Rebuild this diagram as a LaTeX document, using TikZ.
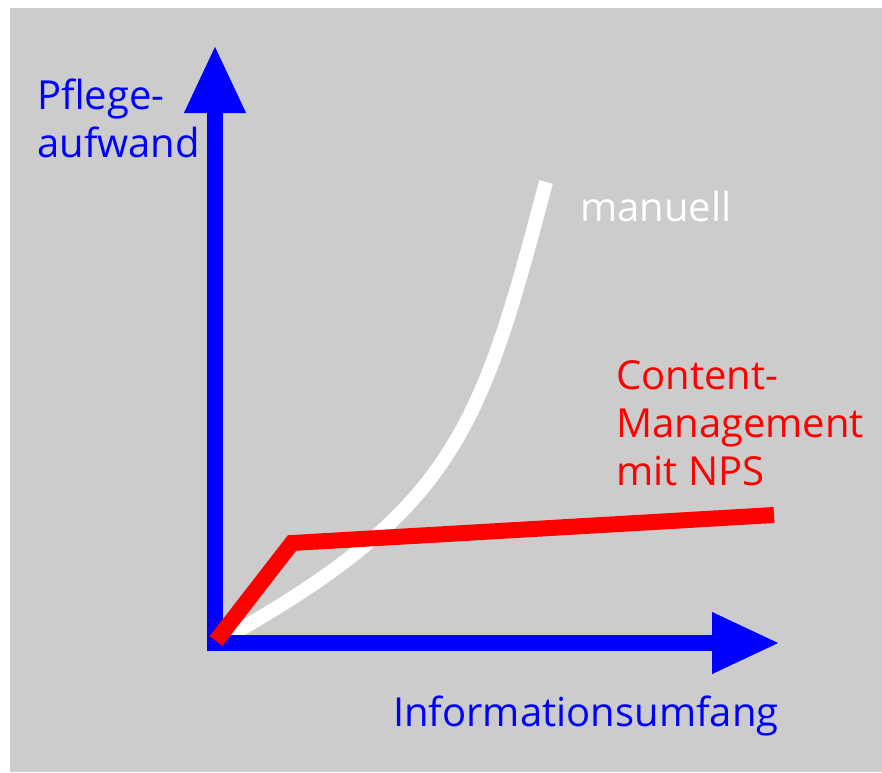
\documentclass[tikz,border=0pt]{standalone}
\usepackage{fontspec}
\setmainfont{Open Sans}
\usetikzlibrary{arrows.meta}
\definecolor{panel}{RGB}{204,204,204}
\definecolor{axisblue}{RGB}{0,0,255}
\definecolor{cmsred}{RGB}{255,0,0}
\tikzset{
  axisline/.style={draw=axisblue, line width=16pt, line join=miter,
    {Triangle[length=68pt,width=57pt]}-{Triangle[length=68pt,width=57pt]}},
  manualline/.style={draw=white, line width=14pt},
  cmsline/.style={draw=cmsred, line width=16pt, line join=miter},
  lbl/.style={inner sep=0pt, anchor=base west, align=left,
    font=\fontsize{40}{48}\selectfont}
}
\begin{document}
\begin{tikzpicture}[x=1pt, y=-1pt]
  \useasboundingbox (0,0) rectangle (882,772);
  \fill[panel] (10,8) rectangle (882,772);

  % key points
  \coordinate (ytip) at (215,45);
  \coordinate (origin) at (215,643);
  \coordinate (xtip) at (780,643);
  \coordinate (r0) at (216,641);
  \coordinate (r1) at (292,543);
  \coordinate (r2) at (774,515);
  \coordinate (m0) at (225,638);
  \coordinate (m1) at (546,182);

  % manual effort curve
  \draw[manualline] (m0) .. controls (455,509) and (481,429) .. (m1);

  % axes
  \draw[axisline] (ytip) -- (origin) -- (xtip);

  % content management curve
  \draw[cmsline] (r0) -- (r1) -- (r2);

  % labels (anchored at the baseline of the last line)
  \node[lbl, text=axisblue] (ylabel) at (37,157) {Pflege-\\aufwand};
  \node[lbl, text=axisblue] (xlabel) at (393,726) {Informationsumfang};
  \node[lbl, text=white] (manlabel) at (580,221) {manuell};
  \node[lbl, text=cmsred] (cmslabel) at (616,485) {Content-\\Management\\mit NPS};
\end{tikzpicture}
\end{document}
